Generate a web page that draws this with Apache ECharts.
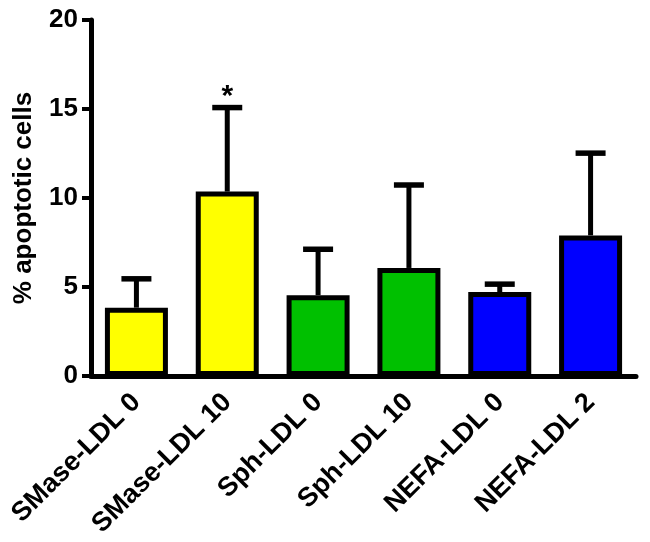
<!DOCTYPE html>
<html>
<head>
<meta charset="utf-8">
<script src="https://cdn.jsdelivr.net/npm/echarts@6/dist/echarts.min.js"></script>
<style>
html,body{margin:0;padding:0;background:#fff;}
#chart{width:650px;height:542px;}
</style>
</head>
<body>
<div id="chart"></div>
<script>
var categories = ['SMase-LDL 0', 'SMase-LDL 10', 'Sph-LDL 0', 'Sph-LDL 10', 'NEFA-LDL 0', 'NEFA-LDL 2'];
var means = [3.84, 10.36, 4.54, 6.07, 4.72, 7.90];
var errors = [1.62, 4.72, 2.58, 4.66, 0.44, 4.62];
var barColors = ['#FFFF00', '#FFFF00', '#00C000', '#00C000', '#0000FF', '#0000FF'];
var significance = ['', '*', '', '', '', ''];
var yTicks = [0, 5, 10, 15, 20];

var FONT = '"Liberation Sans", Arial, sans-serif';

var chart = echarts.init(document.getElementById('chart'));

var errData = means.map(function (m, i) { return [i, m, m + errors[i]]; });

chart.setOption({
  animation: false,
  backgroundColor: '#fff',
  grid: { left: 91, right: 14, top: 20, bottom: 166, containLabel: false },
  xAxis: {
    type: 'category',
    data: categories,
    boundaryGap: true,
    axisLine: { lineStyle: { color: '#000', width: 5 } },
    axisTick: { alignWithLabel: true, length: 9, lineStyle: { color: '#000', width: 4 } },
    axisLabel: {
      rotate: 45, margin: 22, interval: 0,
      color: '#000', fontSize: 27, fontWeight: 'bold', fontFamily: FONT
    }
  },
  yAxis: {
    type: 'value',
    min: yTicks[0], max: yTicks[yTicks.length - 1], interval: 5,
    name: '% apoptotic cells',
    nameLocation: 'middle',
    nameGap: 54,
    nameTextStyle: { color: '#000', fontSize: 26, fontWeight: 'bold', fontFamily: FONT },
    axisLine: { show: true, lineStyle: { color: '#000', width: 5 } },
    axisTick: { show: true, length: 9, lineStyle: { color: '#000', width: 4 } },
    splitLine: { show: false },
    axisLabel: { margin: 13, color: '#000', fontSize: 26, fontWeight: 'bold', fontFamily: FONT }
  },
  series: [
    {
      type: 'custom',
      z: 1,
      data: errData,
      encode: { x: 0, y: [1, 2] },
      renderItem: function (params, api) {
        var i = api.value(0);
        var top = api.coord([i, api.value(2)]);
        var base = api.coord([i, api.value(1)]);
        var half = 15;
        var children = [
          { type: 'line', shape: { x1: top[0], y1: base[1], x2: top[0], y2: top[1] }, style: { stroke: '#000', lineWidth: 5 } },
          { type: 'line', shape: { x1: top[0] - half, y1: top[1], x2: top[0] + half, y2: top[1] }, style: { stroke: '#000', lineWidth: 5.5 } }
        ];
        var sig = significance[params.dataIndex];
        if (sig) {
          children.push({
            type: 'text',
            style: { text: sig, x: top[0], y: top[1] + 4, align: 'center', verticalAlign: 'bottom',
                     fill: '#000', font: 'bold 30px ' + FONT }
          });
        }
        return { type: 'group', children: children };
      }
    },
    {
      type: 'bar',
      z: 2,
      barWidth: 63,
      data: means.map(function (v, i) {
        return { value: v, itemStyle: { color: barColors[i], borderColor: '#000', borderWidth: 5 } };
      })
    }
  ]
});
</script>
</body>
</html>
